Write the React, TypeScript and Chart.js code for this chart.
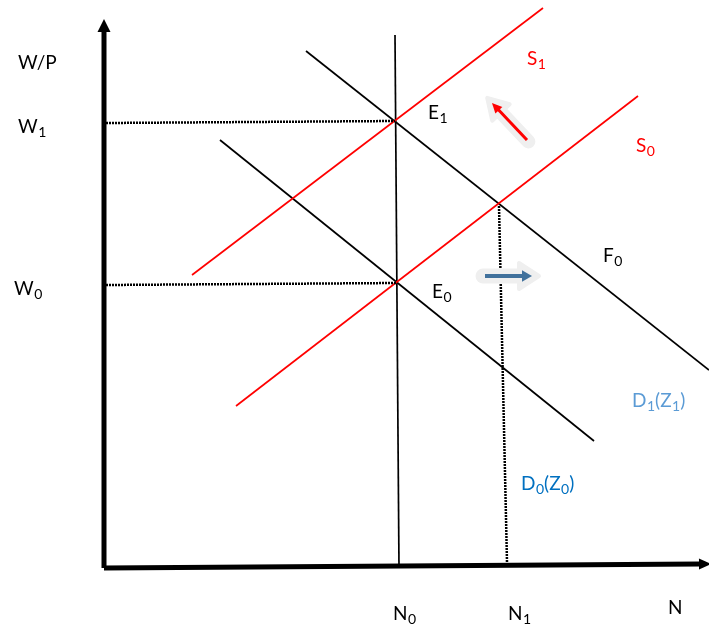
import React, { useEffect, useRef } from "react";
import { Chart, registerables } from "chart.js";

Chart.register(...registerables);

// Data coordinates: N (employment) horizontally, W/P (real wage) vertically, origin at the axes' corner.
const S1 = [{ x: 88, y: 293 }, { x: 439, y: 560 }];
const S0 = [{ x: 132, y: 162 }, { x: 534, y: 472 }];
const D1 = [{ x: 202, y: 517 }, { x: 605, y: 198 }];
const D0 = [{ x: 116, y: 428 }, { x: 490, y: 127 }];
const N0Line = [{ x: 291, y: 533 }, { x: 295, y: 0 }];
const W1Guide = [{ x: 2, y: 445 }, { x: 291, y: 447 }];
const W0Guide = [{ x: 2, y: 283 }, { x: 293, y: 285 }];
const N1Guide = [{ x: 395, y: 362 }, { x: 403, y: 6 }];
const YAxis = [{ x: 0, y: 0 }, { x: 0, y: 538 }];
const XAxis = [{ x: 0, y: 0 }, { x: 596, y: 4 }];
const YArrowTip = { x: 0, y: 549 };
const XArrowTip = { x: 607, y: 4 };

// Shift arrows (tail -> tip)
const RedShift = [{ x: 423, y: 428 }, { x: 388, y: 465 }];
const BlueShift = [{ x: 381, y: 292 }, { x: 428, y: 292 }];

// Labels: [main, subscript, rest, subscript2, x, y, color]
const labels: [string, string, string, string, number, number, string][] = [
  ["W/P", "", "", "", -86, 499, "#000"],
  ["W", "1", "", "", -86, 435, "#000"],
  ["W", "0", "", "", -90, 273, "#000"],
  ["S", "1", "", "", 423, 503, "#ff0000"],
  ["S", "0", "", "", 532, 416, "#ff0000"],
  ["E", "1", "", "", 324, 449, "#000"],
  ["E", "0", "", "", 328, 270, "#000"],
  ["F", "0", "", "", 499, 306, "#000"],
  ["D", "1", "(Z", "1", 528, 161, "#5b9bd5"],
  ["D", "0", "(Z", "0", 417, 78, "#0070c0"],
  ["N", "0", "", "", 289, -52, "#000"],
  ["N", "1", "", "", 404, -52, "#000"],
  ["N", "", "", "", 564, -46, "#000"],
];

const FONT = "Lato, 'Open Sans', sans-serif";

const annotPlugin = {
  id: "annot",
  afterDatasetsDraw(chart: any) {
    const ctx = chart.ctx as CanvasRenderingContext2D;
    const xs = chart.scales.x;
    const ys = chart.scales.y;
    const px = (p: { x: number; y: number }) => [xs.getPixelForValue(p.x), ys.getPixelForValue(p.y)];

    const triPx = (tx: number, ty: number, a: number, len: number, half: number, color: string) => {
      ctx.beginPath();
      ctx.moveTo(tx, ty);
      ctx.lineTo(tx - len * Math.cos(a) + half * Math.sin(a), ty - len * Math.sin(a) - half * Math.cos(a));
      ctx.lineTo(tx - len * Math.cos(a) - half * Math.sin(a), ty - len * Math.sin(a) + half * Math.cos(a));
      ctx.closePath();
      ctx.fillStyle = color;
      ctx.fill();
    };
    const tri = (tip: { x: number; y: number }, from: { x: number; y: number }, len: number, half: number, color: string) => {
      const [tx, ty] = px(tip);
      const [fx, fy] = px(from);
      triPx(tx, ty, Math.atan2(ty - fy, tx - fx), len, half, color);
    };

    ctx.save();
    // axis arrowheads
    tri(YArrowTip, YAxis[0], 13, 6.5, "#000");
    tri(XArrowTip, XAxis[0], 12, 5.5, "#000");

    // shift arrows with soft gray arrow-shaped backdrop
    const arrow = (pts: { x: number; y: number }[], color: string, w: number) => {
      const [ax, ay] = px(pts[0]);
      const [bx, by] = px(pts[1]);
      const a = Math.atan2(by - ay, bx - ax);
      const c = Math.cos(a), s = Math.sin(a);
      const bg = "#efefef";
      ctx.lineCap = "round";
      ctx.lineJoin = "round";
      ctx.strokeStyle = bg;
      ctx.lineWidth = w + 11;
      ctx.beginPath();
      ctx.moveTo(ax - 2 * c, ay - 2 * s);
      ctx.lineTo(bx - 6 * c, by - 6 * s);
      ctx.stroke();
      // backdrop head
      ctx.beginPath();
      const tx = bx + 7 * c, ty = by + 7 * s;
      const len = 20, half = w + 9;
      ctx.moveTo(tx, ty);
      ctx.lineTo(tx - len * c + half * s, ty - len * s - half * c);
      ctx.lineTo(tx - len * c - half * s, ty - len * s + half * c);
      ctx.closePath();
      ctx.fillStyle = bg;
      ctx.fill();
      ctx.lineWidth = 4;
      ctx.stroke();
      ctx.lineCap = "butt";
      ctx.strokeStyle = color;
      ctx.lineWidth = w;
      ctx.beginPath();
      ctx.moveTo(ax, ay);
      ctx.lineTo(bx - 8 * c, by - 8 * s);
      ctx.stroke();
      triPx(bx, by, a, 10, w + 1.8, color);
    };
    arrow(RedShift, "#ff0000", 3);
    arrow(BlueShift, "#41719c", 4);

    // labels
    ctx.textBaseline = "alphabetic";
    ctx.textAlign = "left";
    for (const [m, s, r, s2, x, y, c] of labels) {
      let [lx, ly] = px({ x, y });
      ctx.fillStyle = c;
      ctx.font = `19px ${FONT}`;
      ctx.fillText(m, lx, ly);
      lx += ctx.measureText(m).width;
      if (s) {
        ctx.font = `14px ${FONT}`;
        ctx.fillText(s, lx + 0.5, ly + 4);
        lx += ctx.measureText(s).width + 0.5;
      }
      if (r) {
        ctx.font = `19px ${FONT}`;
        ctx.fillText(r, lx, ly);
        lx += ctx.measureText(r).width;
        if (s2) {
          ctx.font = `14px ${FONT}`;
          ctx.fillText(s2, lx + 0.5, ly + 4);
          lx += ctx.measureText(s2).width + 0.5;
        }
        ctx.font = `19px ${FONT}`;
        ctx.fillText(")", lx, ly);
      }
    }
    ctx.restore();
  },
};

export default function App() {
  const ref = useRef<HTMLCanvasElement>(null);
  useEffect(() => {
    if (!ref.current) return;
    const line = (data: any, color: string, width: number, dash: number[] = []) => ({
      data,
      borderColor: color,
      borderWidth: width,
      borderDash: dash,
      showLine: true,
      pointRadius: 0,
      fill: false,
      tension: 0,
    });
    const chart = new Chart(ref.current, {
      type: "scatter",
      data: {
        datasets: [
          line(W1Guide, "#000", 2.5, [2, 1]),
          line(W0Guide, "#000", 2.5, [2, 1]),
          line(N1Guide, "#000", 2.5, [2, 1]),
          line(S1, "#ff0000", 1.7),
          line(S0, "#ff0000", 1.7),
          line(D1, "#000", 1.7),
          line(D0, "#000", 1.7),
          line(N0Line, "#000", 1.7),
          line(YAxis, "#000", 5),
          line(XAxis, "#000", 5),
        ] as any,
      },
      options: {
        animation: false,
        responsive: false,
        maintainAspectRatio: false,
        layout: { padding: 0 },
        plugins: { legend: { display: false }, tooltip: { enabled: false } },
        scales: {
          x: { type: "linear", min: -104, max: 605, display: false },
          y: { type: "linear", min: -60, max: 568, display: false },
        },
        elements: { line: { borderCapStyle: "butt" } },
      } as any,
      plugins: [annotPlugin],
    });
    return () => chart.destroy();
  }, []);
  return (
    <div style={{ position: "absolute", left: 0, top: 0, width: 709, height: 628, background: "#fff" }}>
      <canvas ref={ref} width={709} height={628} />
    </div>
  );
}
